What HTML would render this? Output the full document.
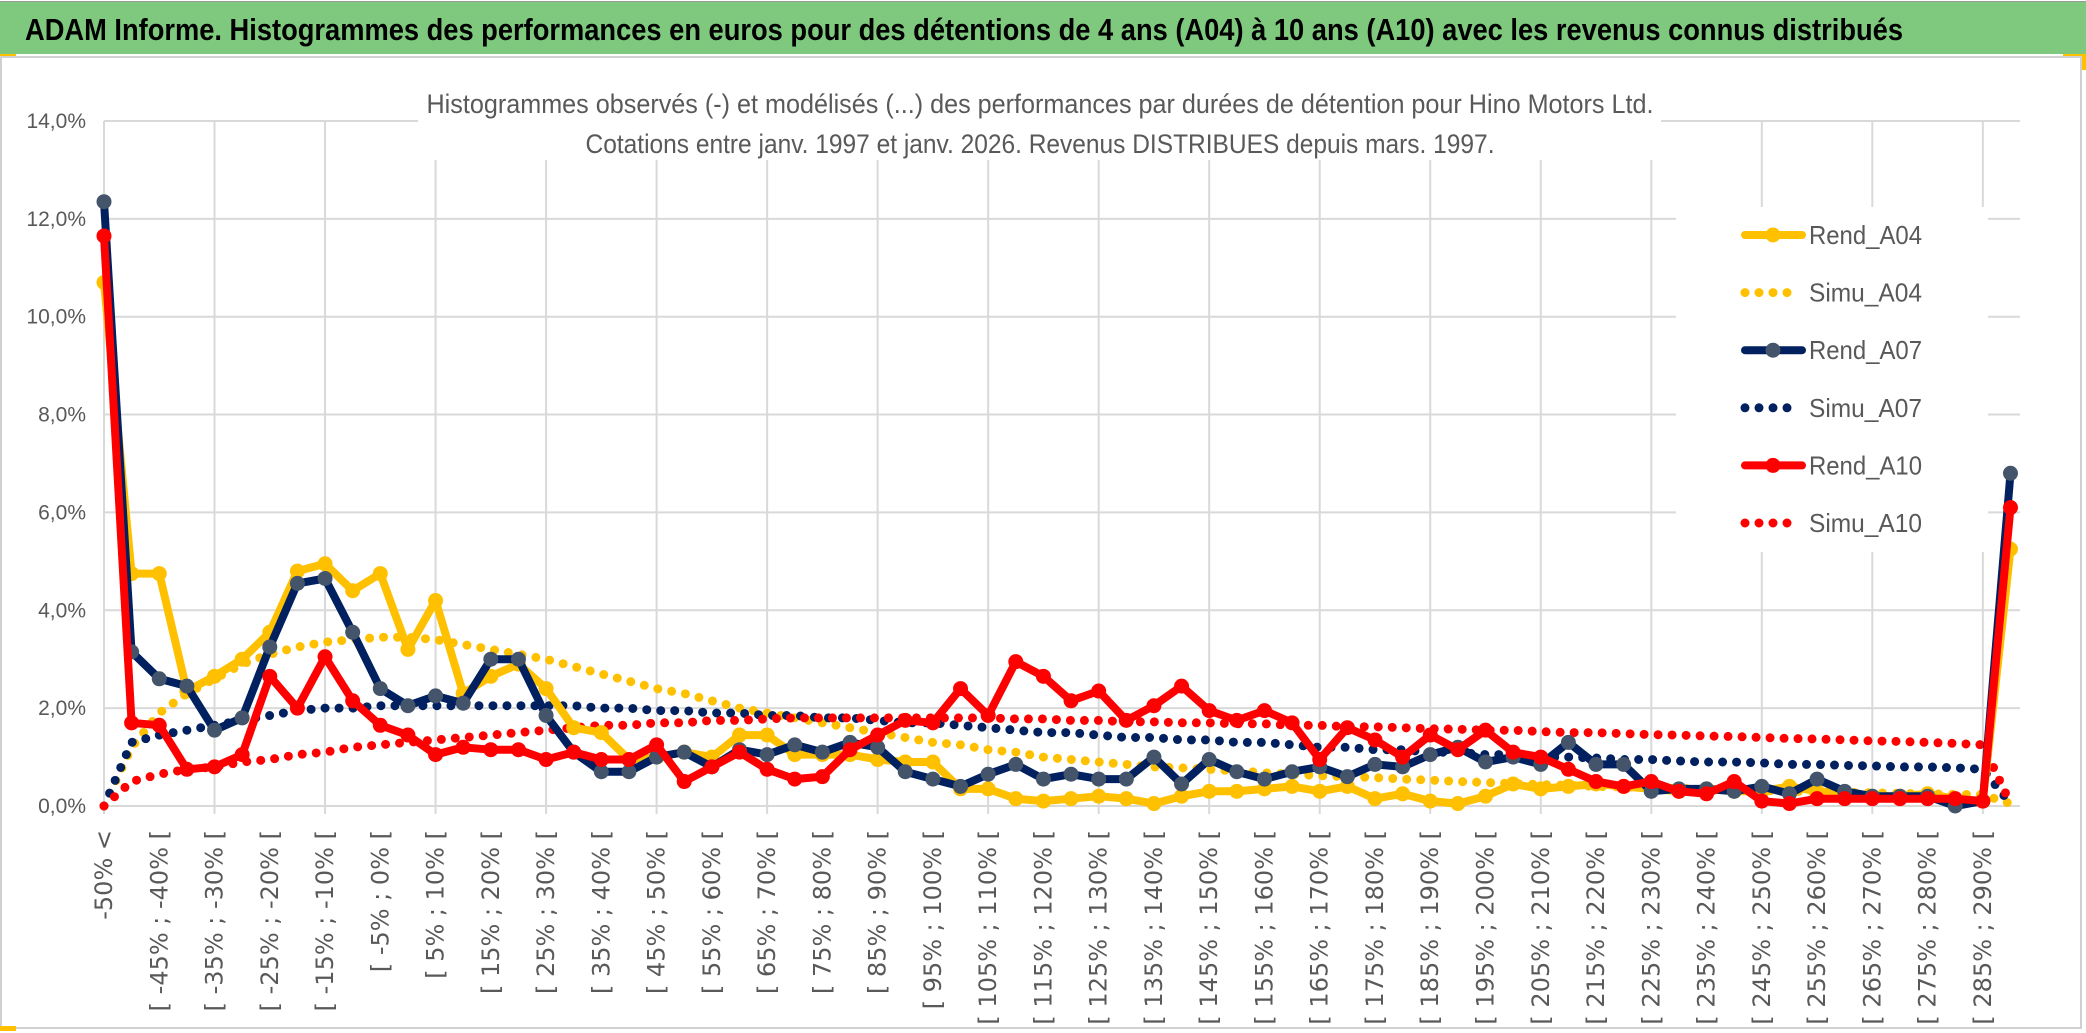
<!DOCTYPE html>
<html><head><meta charset="utf-8"><style>
html,body{margin:0;padding:0;background:#fff;width:2086px;height:1033px;overflow:hidden}
svg{display:block}
</style></head><body>
<svg id="chart" width="2086" height="1033" viewBox="0 0 2086 1033" xmlns="http://www.w3.org/2000/svg" font-family="'Liberation Sans', sans-serif">
<rect x="0" y="0" width="2086" height="1033" fill="#fff"/>
<rect x="0" y="1" width="2086" height="1.5" fill="#999"/>
<rect x="0" y="2" width="2086" height="52" fill="#7fc97f"/>
<text x="25" y="40" font-size="31" font-weight="bold" fill="#000" textLength="1878" lengthAdjust="spacingAndGlyphs">ADAM Informe. Histogrammes des performances en euros pour des détentions de 4 ans (A04) à 10 ans (A10) avec les revenus connus distribués</text>
<rect x="0" y="54" width="16" height="4" fill="#ffc000"/>
<rect x="2063" y="54" width="23" height="16" fill="#ffc000"/>
<rect x="1" y="57" width="2080" height="971" fill="#fff" stroke="#d0d0d0" stroke-width="2"/>
<rect x="0" y="1026" width="16" height="5" fill="#ffc000"/>
<g id="grid"></g>
<rect x="418" y="78" width="1243" height="82" fill="#fff"/>
<text x="1040" y="113" font-size="27" fill="#595959" text-anchor="middle" textLength="1227" lengthAdjust="spacingAndGlyphs">Histogrammes observés (-) et modélisés (...) des performances par durées de détention pour Hino Motors Ltd.</text>
<text x="1040" y="153" font-size="27" fill="#595959" text-anchor="middle" textLength="909" lengthAdjust="spacingAndGlyphs">Cotations entre janv. 1997 et janv. 2026. Revenus DISTRIBUES depuis mars. 1997.</text>
<g id="yticks"></g>
<g id="xticks"></g>
<g id="series"></g>
<g id="legend"></g>
</svg>
<script>
const categories = [];
for (let i = 0; i < 70; i++) {
  if (i === 0) categories.push("-50% <");
  else { const a = -55 + 5 * i; categories.push("[ " + a + "% ; " + (a + 5) + "% ["); }
}
const yTicks = [0, 2, 4, 6, 8, 10, 12, 14];
const yTickLabels = ["0,0%", "2,0%", "4,0%", "6,0%", "8,0%", "10,0%", "12,0%", "14,0%"];
const rendA04 = [10.7,4.75,4.75,2.35,2.65,3.0,3.55,4.8,4.95,4.4,4.75,3.2,4.2,2.3,2.65,2.9,2.4,1.6,1.5,0.95,1.0,1.1,1.0,1.45,1.45,1.05,1.05,1.05,0.95,0.9,0.9,0.35,0.35,0.15,0.1,0.15,0.2,0.15,0.05,0.2,0.3,0.3,0.35,0.4,0.3,0.4,0.15,0.25,0.1,0.05,0.2,0.45,0.35,0.4,0.45,0.4,0.35,0.3,0.35,0.3,0.3,0.4,0.3,0.25,0.2,0.2,0.25,0.15,0.1,5.25];
const rendA07 = [12.35,3.15,2.6,2.45,1.55,1.8,3.25,4.55,4.65,3.55,2.4,2.05,2.25,2.1,3.0,3.0,1.85,1.1,0.7,0.7,1.0,1.1,0.8,1.15,1.05,1.25,1.1,1.3,1.2,0.7,0.55,0.4,0.65,0.85,0.55,0.65,0.55,0.55,1.0,0.45,0.95,0.7,0.55,0.7,0.8,0.6,0.85,0.8,1.05,1.2,0.9,1.0,0.85,1.3,0.85,0.85,0.3,0.35,0.35,0.3,0.4,0.25,0.55,0.3,0.2,0.2,0.2,0.0,0.1,6.8];
const rendA10 = [11.65,1.7,1.65,0.75,0.8,1.05,2.65,2.0,3.05,2.15,1.65,1.45,1.05,1.2,1.15,1.15,0.95,1.1,0.95,0.95,1.25,0.5,0.8,1.1,0.75,0.55,0.6,1.15,1.45,1.75,1.7,2.4,1.85,2.95,2.65,2.15,2.35,1.75,2.05,2.45,1.95,1.75,1.95,1.7,0.95,1.6,1.35,1.0,1.45,1.15,1.55,1.1,1.0,0.75,0.5,0.4,0.5,0.3,0.25,0.5,0.1,0.05,0.15,0.15,0.15,0.15,0.15,0.15,0.1,6.1];
const simuA04 = [0,1.2,1.9,2.3,2.6,2.9,3.1,3.25,3.35,3.4,3.45,3.45,3.4,3.3,3.2,3.1,3.0,2.85,2.7,2.55,2.4,2.3,2.15,2.0,1.9,1.8,1.7,1.6,1.5,1.4,1.3,1.25,1.15,1.1,1.0,0.95,0.9,0.85,0.8,0.78,0.75,0.72,0.68,0.65,0.62,0.6,0.58,0.55,0.53,0.5,0.48,0.46,0.44,0.42,0.4,0.39,0.37,0.36,0.34,0.33,0.32,0.3,0.29,0.28,0.27,0.26,0.25,0.24,0.23,0.05];
const simuA07 = [0,1.3,1.45,1.55,1.65,1.75,1.85,1.95,2.0,2.0,2.05,2.05,2.05,2.05,2.05,2.05,2.05,2.05,2.0,2.0,1.95,1.95,1.9,1.9,1.85,1.85,1.8,1.8,1.75,1.7,1.7,1.65,1.6,1.55,1.5,1.5,1.45,1.4,1.4,1.35,1.35,1.3,1.3,1.25,1.2,1.2,1.15,1.15,1.1,1.1,1.05,1.05,1.0,1.0,0.98,0.95,0.95,0.92,0.9,0.9,0.88,0.85,0.85,0.83,0.82,0.8,0.8,0.78,0.75,0.05];
const simuA10 = [0,0.5,0.65,0.75,0.8,0.9,0.95,1.05,1.1,1.2,1.25,1.3,1.35,1.4,1.45,1.5,1.55,1.6,1.65,1.65,1.7,1.7,1.75,1.75,1.78,1.8,1.8,1.8,1.8,1.8,1.8,1.8,1.8,1.78,1.78,1.75,1.75,1.72,1.72,1.7,1.7,1.68,1.68,1.65,1.65,1.62,1.62,1.6,1.58,1.57,1.55,1.55,1.52,1.5,1.5,1.48,1.46,1.45,1.43,1.42,1.4,1.38,1.37,1.35,1.33,1.32,1.3,1.28,1.25,0.05];

const NS = "http://www.w3.org/2000/svg";
const X0 = 104, XSTEP = 27.63, Y0 = 806, YPER = 48.93, XR = 2020;
function xPos(i){ return X0 + i * XSTEP; }
function yPos(v){ return Y0 - v * YPER; }
function mk(tag, attrs, parent){ const e = document.createElementNS(NS, tag); for (const k in attrs) e.setAttribute(k, attrs[k]); parent.appendChild(e); return e; }

const grid = document.getElementById("grid");
yTicks.forEach((t) => {
  const l = mk("line", {x1: X0, x2: XR, y1: yPos(t), y2: yPos(t), stroke: "#d9d9d9", "stroke-width": 2}, grid);
  
  
});
for (let i = 0; i < categories.length; i += 4) {
  const l = mk("line", {x1: xPos(i), x2: xPos(i), y1: yPos(14), y2: Y0 + 8, stroke: "#d9d9d9", "stroke-width": 2}, grid);
  
  
}
const yt = document.getElementById("yticks");
yTicks.forEach((t, k) => {
  const e = mk("text", {x: 86, y: yPos(t) + 7, "font-size": 21, fill: "#595959", "text-anchor": "end"}, yt);
  
  
  e.textContent = yTickLabels[k];
});
const xt = document.getElementById("xticks");
categories.forEach((c, i) => {
  if (i % 2 !== 0) return;
  const x = xPos(i) + 8, y = 830;
  const e = mk("text", {x: x, y: y, "font-size": 24, fill: "#595959", "text-anchor": "end", "font-family": "'DejaVu Sans', sans-serif", transform: "rotate(-90 " + x + " " + y + ")"}, xt);
  
  
  e.textContent = c;
});

const ser = document.getElementById("series");
function dotted(vals, color, name){
  const d = vals.map((v, i) => (i ? "L" : "M") + xPos(i).toFixed(1) + "," + yPos(v).toFixed(1)).join("");
  const p = mk("path", {d: d, fill: "none", stroke: color, "stroke-width": 9, "stroke-linecap": "round", "stroke-dasharray": "0 14"}, ser);
  
  
}
function solid(vals, color, mcolor, name){
  const d = vals.map((v, i) => (i ? "L" : "M") + xPos(i).toFixed(1) + "," + yPos(v).toFixed(1)).join("");
  const p = mk("path", {d: d, fill: "none", stroke: color, "stroke-width": 8, "stroke-linejoin": "round"}, ser);
  
  
  vals.forEach((v, i) => {
    const c = mk("circle", {cx: xPos(i), cy: yPos(v), r: 7.5, fill: mcolor}, ser);
    
    
  });
}
dotted(simuA04, "#ffc000", "simu-a04-line");
dotted(simuA07, "#002060", "simu-a07-line");
dotted(simuA10, "#ff0000", "simu-a10-line");
solid(rendA04, "#ffc000", "#ffc000", "rend-a04-line");
solid(rendA07, "#002060", "#44546a", "rend-a07-line");
solid(rendA10, "#ff0000", "#ff0000", "rend-a10-line");

const lg = document.getElementById("legend");
const bg = mk("rect", {x: 1676, y: 207, width: 312, height: 345, fill: "#fff"}, lg);


const legendNames = ["Rend_A04", "Simu_A04", "Rend_A07", "Simu_A07", "Rend_A10", "Simu_A10"];
const legendColors = ["#ffc000", "#ffc000", "#002060", "#002060", "#ff0000", "#ff0000"];
const legendMarkers = ["#ffc000", null, "#44546a", null, "#ff0000", null];
legendNames.forEach((n, k) => {
  const y = 235 + k * 57.6;
  const g = mk("g", {}, lg);
  
  
  if (legendMarkers[k]) {
    mk("line", {x1: 1745, x2: 1802, y1: y, y2: y, stroke: legendColors[k], "stroke-width": 8, "stroke-linecap": "round"}, g);
    mk("circle", {cx: 1773, cy: y, r: 7.5, fill: legendMarkers[k]}, g);
  } else {
    const end = k === 5 ? 1801 : 1792;
    mk("line", {x1: 1745, x2: end, y1: y, y2: y, stroke: legendColors[k], "stroke-width": 9, "stroke-linecap": "round", "stroke-dasharray": "0 14"}, g);
  }
  const t = mk("text", {x: 1809, y: y + 9, "font-size": 26, fill: "#595959", textLength: 113, lengthAdjust: "spacingAndGlyphs"}, g);
  t.textContent = n;
});
</script>
</body></html>
